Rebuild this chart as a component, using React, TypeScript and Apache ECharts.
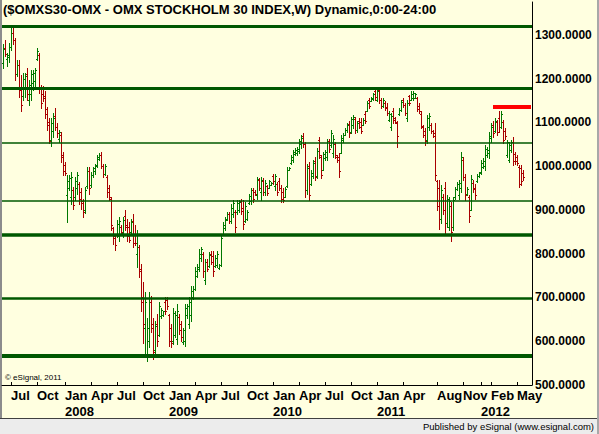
import React, { useEffect, useRef } from 'react';
import * as echarts from 'echarts';

const TITLE = '($OMXS30-OMX - OMX STOCKHOLM 30 INDEX,W) Dynamic,0:00-24:00';

// weekly OHLC, June 2007 .. May 2012
const opens = [
  1235,1270,1245,1250,1272,1305,1288,1210,1230,1180,
  1160,1180,1210,1150,1165,1190,1195,1245,1255,1180,
  1165,1160,1130,1100,1060,1080,1115,1090,1062,1072,
  1025,1002,935,950,930,945,930,950,960,940,
  920,900,955,990,958,980,990,1002,1016,1025,
  1000,982,975,950,925,858,840,842,840,862,
  848,885,865,860,850,875,845,800,815,765,
  700,630,570,600,690,640,580,640,615,658,
  660,690,695,660,630,600,615,605,655,640,
  598,600,660,640,660,700,720,750,765,790,
  800,740,782,772,800,795,772,775,767,775,
  842,858,878,890,875,890,895,895,900,920,
  905,875,880,916,920,945,942,935,968,940,
  965,940,955,950,958,978,955,960,965,950,
  940,930,955,992,1008,1015,1028,1030,1035,1050,
  1068,1050,945,1000,960,978,1012,978,1060,1020,
  992,1018,1020,1058,1048,1030,1050,1022,1020,1030,
  1060,1072,1082,1096,1078,1095,1108,1082,1104,1100,
  1095,1120,1126,1150,1149,1154,1172,1152,1175,1150,
  1138,1145,1135,1105,1090,1125,1110,1098,1118,1128,
  1150,1140,1110,1160,1152,1155,1156,1155,1138,1120,
  1090,1080,1060,1090,1095,1080,1075,965,950,880,
  930,950,870,860,910,860,930,948,935,950,
  1015,975,936,930,900,962,950,966,978,986,
  998,1000,1025,1030,1065,1095,1080,1100,1110,1090,
  1100,1080,1025,1015,1038,1055,1028,1020,998,995,
  985,
];
const highs = [
  1278,1289,1259,1281,1318,1316,1293,1243,1243,1209,
  1213,1213,1224,1197,1220,1220,1224,1270,1259,1186,
  1182,1171,1136,1109,1109,1121,1132,1098,1083,1079,
  1033,1010,979,979,987,953,976,987,964,949,
  926,953,999,999,987,999,1006,1025,1029,1033,
  1006,1006,979,957,930,861,846,876,884,865,
  884,899,880,872,880,891,865,853,819,777,
  735,712,654,712,704,654,647,662,689,677,
  670,700,700,662,639,677,670,685,662,647,
  631,685,685,700,727,727,769,777,811,815,
  803,788,788,803,807,807,796,807,777,842,
  872,884,895,895,914,922,899,922,922,926,
  922,918,899,937,949,949,945,976,972,976,
  972,968,957,968,964,983,983,964,972,957,
  949,953,998,998,1025,1037,1041,1044,1063,1071,
  1075,1056,1006,1010,991,1014,1021,1041,1067,1025,
  1033,1037,1063,1063,1083,1071,1056,1025,1029,1071,
  1075,1086,1098,1102,1113,1117,1113,1102,1109,1109,
  1109,1125,1148,1155,1159,1167,1178,1178,1178,1155,
  1155,1148,1144,1125,1121,1132,1113,1102,1132,1151,
  1155,1144,1151,1163,1171,1171,1167,1159,1144,1125,
  1094,1086,1117,1121,1098,1083,1098,968,968,957,
  937,964,934,930,918,930,953,964,968,1033,
  1021,983,953,934,979,968,960,983,987,1014,
  1018,1048,1044,1079,1098,1102,1109,1106,1125,1125,
  1106,1086,1060,1056,1060,1067,1033,1025,1002,1002,
  991,
];
const lows = [
  1224,1251,1228,1239,1266,1278,1197,1205,1159,1125,
  1152,1159,1152,1140,1152,1174,1182,1243,1167,1132,
  1148,1109,1083,1052,1045,1067,1083,1067,1056,1010,
  979,979,872,945,914,903,922,937,914,903,
  884,892,949,937,953,976,983,999,1014,995,
  976,979,930,922,853,823,808,838,830,846,
  838,853,830,826,846,815,819,769,746,670,
  597,567,555,586,620,559,574,590,612,654,
  658,662,674,590,586,593,609,593,616,601,
  593,590,654,631,647,697,716,746,761,784,
  746,731,761,769,777,750,769,769,765,773,
  842,853,876,869,869,884,849,891,895,891,
  857,872,876,914,914,918,934,926,945,922,
  934,934,934,949,957,960,945,934,945,918,
  918,930,953,991,1006,1010,1025,1025,1029,1041,
  1044,930,937,922,957,972,968,972,1018,972,
  991,1014,1014,1033,1044,1021,1018,1010,976,1029,
  1056,1071,1079,1067,1075,1086,1075,1079,1086,1075,
  1094,1098,1125,1132,1148,1151,1151,1148,1144,1132,
  1136,1128,1117,1102,1083,1098,1098,1043,1117,1125,
  1136,1117,1102,1140,1151,1151,1155,1125,1121,1086,
  1067,1048,1052,1083,1075,1067,968,899,857,869,
  891,846,861,853,830,853,926,945,926,941,
  968,922,934,872,899,941,926,964,976,983,
  995,991,1021,1018,1056,1067,1079,1071,1079,1086,
  1052,1063,1021,1010,1033,1002,1006,1002,953,957,
  968,
];
const closes = [
  1268,1256,1253,1272,1305,1288,1210,1230,1175,1140,
  1200,1205,1165,1185,1210,1212,1220,1262,1180,1145,
  1155,1120,1095,1058,1098,1110,1090,1075,1078,1020,
  990,985,965,972,975,912,965,980,925,915,
  895,945,990,950,980,995,1000,1020,1025,1000,
  982,1000,940,930,865,835,820,868,875,850,
  878,860,840,832,872,825,825,845,760,690,
  640,690,630,690,630,575,635,600,680,672,
  668,668,680,600,595,665,660,670,625,610,
  625,675,680,690,715,720,760,770,800,810,
  760,780,765,798,782,760,790,800,775,835,
  865,880,890,875,905,915,860,915,918,898,
  868,910,895,932,945,925,936,970,950,968,
  940,962,938,965,962,965,978,940,950,925,
  922,948,992,996,1020,1032,1038,1040,1058,1065,
  1050,945,995,935,985,1008,975,1035,1025,980,
  1028,1032,1058,1040,1075,1062,1025,1013,990,1065,
  1072,1082,1094,1075,1108,1112,1082,1098,1090,1080,
  1105,1102,1144,1138,1156,1164,1158,1172,1150,1138,
  1150,1132,1122,1120,1115,1105,1100,1070,1128,1146,
  1140,1122,1145,1145,1165,1168,1164,1130,1125,1092,
  1072,1058,1110,1115,1080,1070,980,910,880,945,
  900,870,925,920,850,922,948,960,962,1020,
  975,935,948,885,970,948,935,978,984,1008,
  1012,1040,1038,1070,1090,1075,1102,1078,1090,1118,
  1060,1068,1055,1048,1055,1012,1012,1008,960,965,
  975.9783,
];

const WEEK_SLOTS = 265;
const tickIndex = [4, 17, 31, 44, 57, 70, 83, 96, 109, 122, 135, 148, 161, 174, 187, 200, 217, 230, 239, 244, 257];
const tickText = ['Jul', 'Oct', 'Jan\n2008', 'Apr', 'Jul', 'Oct', 'Jan\n2009', 'Apr', 'Jul', 'Oct', 'Jan\n2010', 'Apr', 'Jul', 'Oct', 'Jan\n2011', 'Apr', 'Aug', 'Nov', '\n2012', 'Feb', 'May'];

const levels = [1319, 1179, 1054, 921, 843, 698, 567];
const levelWidths = [3, 3, 1.5, 1.5, 3.5, 2.5, 4];
const resistanceValue = 1136;
const resistanceFrom = 245;
const resistanceTo = 264;

const GREEN = '#007800';
const RED = '#A80000';
const LEVEL_GREEN = '#005800';
const FONT = '"Liberation Sans", Arial, sans-serif';

export default function App() {
  const ref = useRef<HTMLDivElement>(null);
  useEffect(() => {
    if (!ref.current) return;
    const chart = echarts.init(ref.current, null, { renderer: 'svg' });
    const categories = Array.from({ length: WEEK_SLOTS }, (_, i) => String(i));
    const labelMap = new Map<number, string>(tickIndex.map((t, k) => [t, tickText[k]]));
    const tickSet = new Set(tickIndex);
    const data = opens.map((o, i) => [i, o, highs[i], lows[i], closes[i]]);
    const lastPrice = closes[closes.length - 1];

    chart.setOption({
      animation: false,
      backgroundColor: '#FFFFE0',
      textStyle: { fontFamily: FONT },
      grid: { left: 2, right: 67, top: 2, bottom: 49 },
      xAxis: {
        type: 'category',
        data: categories,
        boundaryGap: true,
        axisLine: { show: true, lineStyle: { color: '#000', width: 1 } },
        axisTick: {
          show: true,
          inside: true,
          length: 3,
          alignWithLabel: true,
          interval: (idx: number) => tickSet.has(idx),
          lineStyle: { color: '#000' },
        },
        axisLabel: {
          interval: (idx: number) => tickSet.has(idx),
          formatter: (v: string) => labelMap.get(Number(v)) ?? '',
          align: 'left',
          fontWeight: 'bold',
          fontSize: 13,
          lineHeight: 16,
          color: '#000',
          margin: 2,
          fontFamily: FONT,
        },
        splitLine: { show: false },
      },
      yAxis: {
        type: 'value',
        position: 'right',
        min: 500,
        max: 1375,
        interval: 100,
        axisLine: { show: true, lineStyle: { color: '#000', width: 1 } },
        axisTick: { show: false },
        splitLine: { show: false },
        axisLabel: {
          showMaxLabel: false,
          formatter: (v: number) => v.toFixed(4),
          fontWeight: 'bold',
          fontSize: 12,
          color: '#000',
          margin: 3,
          fontFamily: FONT,
        },
      },
      series: [
        {
          type: 'custom',
          encode: { x: 0, y: [1, 2, 3, 4] },
          data,
          renderItem: (params: any, api: any) => {
            const i = api.value(0);
            const o = api.value(1);
            const h = api.value(2);
            const l = api.value(3);
            const c = api.value(4);
            const pH = api.coord([i, h]);
            const pL = api.coord([i, l]);
            const pO = api.coord([i, o]);
            const pC = api.coord([i, c]);
            const fx = Math.floor(pH[0]);
            const color = c >= o ? GREEN : RED;
            const yh = Math.round(pH[1]);
            const yl = Math.round(pL[1]);
            const yo = Math.round(pO[1]);
            const yc = Math.round(pC[1]);
            return {
              type: 'group',
              children: [
                { type: 'rect', shape: { x: fx, y: yh, width: 1, height: Math.max(1, yl - yh + 1) }, style: { fill: color, stroke: null } },
                { type: 'rect', shape: { x: fx - 1, y: yo, width: 1, height: 1 }, style: { fill: color, stroke: null } },
                { type: 'rect', shape: { x: fx + 1, y: yc, width: 1, height: 1 }, style: { fill: color, stroke: null } },
              ],
            };
          },
          markLine: {
            silent: true,
            symbol: ['none', 'none'],
            animation: false,
            label: { show: false },
            data: [
              ...levels.map((v, k) => ({
                yAxis: v,
                lineStyle: { color: LEVEL_GREEN, width: levelWidths[k], type: 'solid' },
              })),
              [
                { coord: [resistanceFrom, resistanceValue], lineStyle: { color: '#FF0000', width: 4, type: 'solid' } },
                { coord: [resistanceTo, resistanceValue] },
              ],
              {
                yAxis: lastPrice,
                lineStyle: { opacity: 0, width: 0 },
                label: {
                  show: true,
                  position: 'end',
                  distance: 1,
                  formatter: lastPrice.toFixed(4),
                  color: '#FFFFFF',
                  backgroundColor: '#8B0000',
                  fontWeight: 'bold',
                  fontSize: 12,
                  fontFamily: FONT,
                  padding: [1, 2, 1, 2],
                },
              },
            ],
          },
        },
      ],
      graphic: [
        {
          type: 'text',
          left: 3,
          top: 3,
          style: { text: TITLE, fontSize: 13, fontWeight: 'bold', fontFamily: FONT, fill: '#000' },
        },
        {
          type: 'text',
          left: 5,
          top: 373,
          style: { text: '\u00A9 eSignal, 2011', fontSize: 8, fontFamily: FONT, fill: '#000' },
        },
        {
          type: 'rect',
          shape: { x: 0, y: 418, width: 599, height: 16 },
          style: { fill: '#ECECEC' },
        },
        {
          type: 'line',
          shape: { x1: 0, y1: 418.5, x2: 599, y2: 418.5 },
          style: { stroke: '#404040', lineWidth: 1 },
        },
        {
          type: 'text',
          right: 5,
          top: 421,
          style: { text: 'Published by eSignal (www.esignal.com)', fontSize: 9.5, fontFamily: FONT, fill: '#000' },
        },
        {
          type: 'rect',
          shape: { x: 0, y: 0, width: 2, height: 418 },
          style: { fill: '#8C8C8C' },
        },
        {
          type: 'rect',
          shape: { x: 597, y: 0, width: 2, height: 434 },
          style: { fill: '#A8A8A8' },
        },
      ],
    });
    return () => chart.dispose();
  }, []);
  return <div ref={ref} style={{ position: 'fixed', left: 0, top: 0, width: 599, height: 434 }} />;
}
